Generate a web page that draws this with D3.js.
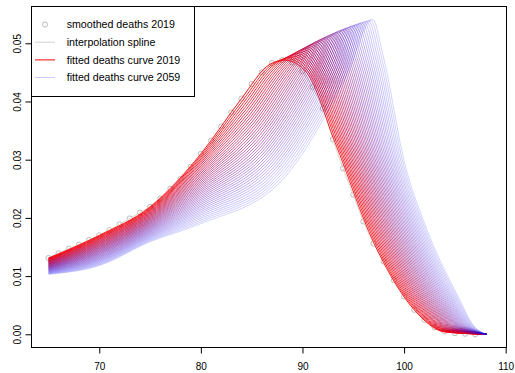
<!DOCTYPE html>
<html>
<head>
<meta charset="utf-8">
<script src="https://cdn.jsdelivr.net/npm/d3@7"></script>
<style>
  html, body { margin: 0; padding: 0; background: #fff; }
  svg { display: block; font-family: "Liberation Sans", Arial, Helvetica, sans-serif; }
</style>
</head>
<body>
<svg id="chart" width="515" height="373"></svg>
<script>
// ---- smoothed deaths distribution, 2019 ----
const smoothAges = [65,66,67,68,69,70,71,72,73,74,75,76,77,78,79,80,81,82,83,84,85,86,87,88,89,90,
  91,92,93,94,95,96,97,98,99,100,101,102,103,104,105,106,107];
const smoothDeaths2019 = [.0131,.0139,.0147,.0154,.0162,.0170,.0179,.0189,.0199,.0209,.0219,.0233,
  .0250,.0267,.0288,.0310,.0333,.0357,.0381,.0405,.0430,.0450,.0466,.0471,.0467,.0452,.0425,.0388,
  .0335,.0285,.0240,.0194,.0156,.0125,.0093,.0065,.0042,.0025,.0012,.0005,.0002,.0001,.0000];

// ---- fitted deaths curves, one per projection year ----
const years = [2019,2020,2021,2022,2023,2024,2025,2026,2027,2028,2029,2030,2031,2032,2033,2034,2035,
  2036,2037,2038,2039,2040,2041,2042,2043,2044,2045,2046,2047,2048,2049,2050,2051,2052,2053,2054,
  2055,2056,2057,2058,2059];

// curve values at fixed ages
const fixedAges = [65, 70, 75, 80];
const v65 = [.01310,.01303,.01296,.01289,.01282,.01275,.01268,.01261,.01254,.01247,
  .01240,.01233,.01226,.01219,.01212,.01205,.01198,.01191,.01184,.01177,
  .01170,.01163,.01156,.01149,.01142,.01135,.01128,.01121,.01114,.01107,
  .01100,.01093,.01086,.01079,.01072,.01065,.01058,.01051,.01044,.01037,.01030];
const v70 = [.01700,.01687,.01674,.01661,.01648,.01635,.01622,.01609,.01596,.01583,
  .01570,.01557,.01544,.01531,.01518,.01505,.01492,.01479,.01466,.01453,
  .01440,.01427,.01414,.01401,.01388,.01375,.01362,.01349,.01336,.01323,
  .01310,.01297,.01284,.01271,.01258,.01245,.01232,.01219,.01206,.01193,.01180];
const v75 = [.02190,.02175,.02160,.02145,.02130,.02115,.02100,.02085,.02070,.02055,
  .02040,.02025,.02010,.01995,.01980,.01965,.01950,.01935,.01920,.01905,
  .01890,.01875,.01860,.01845,.01830,.01815,.01800,.01785,.01770,.01755,
  .01740,.01725,.01710,.01695,.01680,.01665,.01650,.01635,.01620,.01605,.01590];
const v80 = [.0310,.0307,.0304,.0301,.0298,.0295,.0292,.0289,.0286,.0283,
  .0280,.0277,.0274,.0271,.0268,.0265,.0262,.0259,.0256,.0253,
  .0250,.0247,.0244,.0241,.0238,.0235,.0232,.0229,.0226,.0223,
  .0220,.0217,.0214,.0211,.0208,.0205,.0202,.0199,.0196,.0193,.0190];

// rising limb
const riseAge = [84.0,84.1,84.2,84.3,84.4,84.5,84.6,84.7,84.8,84.9,
  85.0,85.1,85.2,85.3,85.4,85.5,85.6,85.7,85.8,85.9,
  86.0,86.1,86.2,86.3,86.4,86.5,86.6,86.7,86.8,86.9,
  87.0,87.1,87.2,87.3,87.4,87.5,87.6,87.7,87.8,87.9,88.0];
const riseVal = [.04050,.04015,.03980,.03945,.03910,.03875,.03840,.03805,.03770,.03735,
  .03700,.03665,.03630,.03595,.03560,.03525,.03490,.03455,.03420,.03385,
  .03350,.03315,.03280,.03245,.03210,.03175,.03140,.03105,.03070,.03035,
  .03000,.02965,.02930,.02895,.02860,.02825,.02790,.02755,.02720,.02685,.02650];
const shoulderAge = [86.80,86.99,87.18,87.37,87.56,87.75,87.94,88.13,88.32,88.51,
  88.70,88.89,89.08,89.27,89.46,89.65,89.84,90.03,90.22,90.41,
  90.60,90.79,90.98,91.17,91.36,91.55,91.74,91.93,92.12,92.31,
  92.50,92.69,92.88,93.07,93.26,93.45,93.64,93.83,94.02,94.21,94.40];
const shoulderVal = [.04640,.04636,.04632,.04628,.04624,.04620,.04616,.04612,.04608,.04604,
  .04600,.04596,.04592,.04588,.04584,.04580,.04576,.04572,.04568,.04564,
  .04560,.04556,.04552,.04548,.04544,.04540,.04536,.04532,.04528,.04524,
  .04520,.04516,.04512,.04508,.04504,.04500,.04496,.04492,.04488,.04484,.04480];

// modal age and height
const peakAge = [88.30,88.52,88.73,88.95,89.16,89.38,89.59,89.81,90.02,90.24,
  90.45,90.67,90.88,91.10,91.31,91.53,91.74,91.96,92.17,92.39,
  92.60,92.82,93.03,93.25,93.46,93.68,93.89,94.11,94.32,94.54,
  94.75,94.97,95.18,95.40,95.61,95.83,96.04,96.26,96.47,96.69,96.90];
const peakVal = [.04710,.04734,.04758,.04782,.04805,.04828,.04851,.04873,.04895,.04916,
  .04938,.04958,.04979,.04999,.05019,.05038,.05057,.05076,.05094,.05112,
  .05130,.05147,.05164,.05181,.05197,.05213,.05229,.05244,.05259,.05273,
  .05288,.05301,.05315,.05328,.05341,.05353,.05365,.05377,.05388,.05399,.05410];

// falling limb
const fall1Age = [90.40,90.59,90.78,90.97,91.16,91.35,91.54,91.73,91.92,92.11,
  92.30,92.49,92.68,92.87,93.06,93.25,93.44,93.63,93.82,94.01,
  94.20,94.39,94.58,94.77,94.96,95.15,95.34,95.53,95.72,95.91,
  96.10,96.29,96.48,96.67,96.86,97.05,97.24,97.43,97.62,97.81,98.00];
const fall1Val = [.04500,.04506,.04512,.04518,.04524,.04530,.04536,.04542,.04548,.04554,
  .04560,.04566,.04572,.04578,.04584,.04590,.04596,.04602,.04608,.04614,
  .04620,.04626,.04632,.04638,.04644,.04650,.04656,.04662,.04668,.04674,
  .04680,.04686,.04692,.04698,.04704,.04710,.04716,.04722,.04728,.04734,.04740];
const fall2Age = [93.20,93.37,93.54,93.71,93.88,94.05,94.22,94.39,94.56,94.73,
  94.90,95.07,95.24,95.41,95.58,95.75,95.92,96.09,96.26,96.43,
  96.60,96.77,96.94,97.11,97.28,97.45,97.62,97.79,97.96,98.13,
  98.30,98.47,98.64,98.81,98.98,99.15,99.32,99.49,99.66,99.83,100.00];
const fall2Val = [.03300,.03292,.03284,.03276,.03268,.03260,.03252,.03244,.03236,.03228,
  .03220,.03212,.03204,.03196,.03188,.03180,.03172,.03164,.03156,.03148,
  .03140,.03132,.03124,.03116,.03108,.03100,.03092,.03084,.03076,.03068,
  .03060,.03052,.03044,.03036,.03028,.03020,.03012,.03004,.02996,.02988,.02980];
const fall3Age = [97.00,97.13,97.26,97.39,97.52,97.65,97.78,97.91,98.04,98.17,
  98.30,98.43,98.56,98.69,98.82,98.95,99.08,99.21,99.34,99.47,
  99.60,99.73,99.86,99.99,100.12,100.25,100.38,100.51,100.64,100.77,
  100.90,101.03,101.16,101.29,101.42,101.55,101.68,101.81,101.94,102.07,102.20];
const fall3Val = [.01580,.01586,.01592,.01598,.01604,.01610,.01616,.01622,.01628,.01634,
  .01640,.01646,.01652,.01658,.01664,.01670,.01676,.01682,.01688,.01694,
  .01700,.01706,.01712,.01718,.01724,.01730,.01736,.01742,.01748,.01754,
  .01760,.01766,.01772,.01778,.01784,.01790,.01796,.01802,.01808,.01814,.01820];
const fall4Age = [101.00,101.11,101.22,101.33,101.44,101.55,101.66,101.77,101.88,101.99,
  102.10,102.21,102.32,102.43,102.54,102.65,102.76,102.87,102.98,103.09,
  103.20,103.31,103.42,103.53,103.64,103.75,103.86,103.97,104.08,104.19,
  104.30,104.41,104.52,104.63,104.74,104.85,104.96,105.07,105.18,105.29,105.40];
const fall4Val = [.00420,.00425,.00430,.00435,.00440,.00445,.00450,.00455,.00460,.00465,
  .00470,.00475,.00480,.00485,.00490,.00495,.00500,.00505,.00510,.00515,
  .00520,.00525,.00530,.00535,.00540,.00545,.00550,.00555,.00560,.00565,
  .00570,.00575,.00580,.00585,.00590,.00595,.00600,.00605,.00610,.00615,.00620];
const tailAge = [104.00,104.07,104.14,104.21,104.28,104.35,104.42,104.49,104.56,104.63,
  104.70,104.77,104.84,104.91,104.98,105.05,105.12,105.19,105.26,105.33,
  105.40,105.47,105.54,105.61,105.68,105.75,105.82,105.89,105.96,106.03,
  106.10,106.17,106.24,106.31,106.38,106.45,106.52,106.59,106.66,106.73,106.80];
const tailVal = [.00040,.00043,.00046,.00049,.00052,.00055,.00058,.00061,.00064,.00067,
  .00070,.00073,.00076,.00079,.00082,.00085,.00088,.00091,.00094,.00097,
  .00100,.00103,.00106,.00109,.00112,.00115,.00118,.00121,.00124,.00127,
  .00130,.00133,.00136,.00139,.00142,.00145,.00148,.00151,.00154,.00157,.00160];
const endPoint = [108.1, 0];

// axis ticks
const xTicks = [70, 80, 90, 100, 110];
const yTicks = [0, 0.01, 0.02, 0.03, 0.04, 0.05];

// legend labels
const legendLabels = ["smoothed deaths 2019", "interpolation spline",
  "fitted deaths curve 2019", "fitted deaths curve 2059"];

// ---- drawing ----
const svg = d3.select("#chart");
const box = { left: 31.5, right: 506.5, top: 6.5, bottom: 347.5 };

const x = d3.scaleLinear().domain([63.33, 110.08]).range([box.left, box.right]);
const y = d3.scaleLinear().domain([-0.00227, 0.05632]).range([box.bottom, box.top]);

const startColor = "rgba(255,0,0,1)";
const endColor = "rgba(0,0,255,0.2)";
const yearColor = d3.interpolateRgb(startColor, endColor);
const pointColor = "#b4b4b4";
const splineColor = "#d3d3d3";

svg.append("rect").attr("width", 515).attr("height", 373).attr("fill", "#fff");

// observed points
svg.append("g").selectAll("circle")
  .data(smoothAges.map((a, i) => [a, smoothDeaths2019[i]]))
  .join("circle")
  .attr("cx", d => x(d[0]))
  .attr("cy", d => y(d[1]))
  .attr("r", 2.6)
  .attr("fill", "none")
  .attr("stroke", pointColor)
  .attr("stroke-width", 0.9);

// spline through the observed points
const splineLine = d3.line().x(d => x(d[0])).y(d => y(d[1])).curve(d3.curveNatural);
svg.append("path")
  .attr("d", splineLine(smoothAges.map((a, i) => [a, smoothDeaths2019[i]])))
  .attr("fill", "none")
  .attr("stroke", splineColor)
  .attr("stroke-width", 1);

// fitted curves, one per year
const curveLine = d3.line().x(d => x(d[0])).y(d => y(d[1])).curve(d3.curveMonotoneX);
const curves = years.map((yr, i) => ({
  year: yr,
  points: [
    [fixedAges[0], v65[i]], [fixedAges[1], v70[i]], [fixedAges[2], v75[i]], [fixedAges[3], v80[i]],
    [riseAge[i], riseVal[i]], [shoulderAge[i], shoulderVal[i]], [peakAge[i], peakVal[i]],
    [fall1Age[i], fall1Val[i]], [fall2Age[i], fall2Val[i]], [fall3Age[i], fall3Val[i]],
    [fall4Age[i], fall4Val[i]], [tailAge[i], tailVal[i]], endPoint
  ]
}));
const firstYear = years[0], lastYear = years[years.length - 1];
svg.append("g").selectAll("path")
  .data(curves)
  .join("path")
  .attr("d", d => curveLine(d.points))
  .attr("fill", "none")
  .attr("stroke", d => yearColor((d.year - firstYear) / (lastYear - firstYear)))
  .attr("stroke-width", 0.85);

// axes
const gx = svg.append("g")
  .attr("transform", `translate(0,${box.bottom})`)
  .call(d3.axisBottom(x).tickValues(xTicks).tickSize(6).tickFormat(d3.format("d")));
gx.select(".domain").remove();
gx.attr("font-family", null).attr("font-size", null);
gx.selectAll("text").attr("y", 22.5).attr("dy", null)
  .style("font-size", "10px").attr("fill", "#000");
gx.selectAll("line").attr("stroke", "#000");

const gy = svg.append("g")
  .attr("transform", `translate(${box.left},0)`)
  .call(d3.axisLeft(y).tickValues(yTicks).tickSize(6).tickFormat(d3.format(".2f")));
gy.select(".domain").remove();
gy.attr("font-family", null).attr("font-size", null);
gy.selectAll("text").attr("x", null).attr("dy", null)
  .attr("text-anchor", "middle")
  .attr("transform", "translate(-11,0) rotate(-90)")
  .style("font-size", "10px").attr("fill", "#000");
gy.selectAll("line").attr("stroke", "#000");

// plot frame
svg.append("rect")
  .attr("x", box.left).attr("y", box.top)
  .attr("width", box.right - box.left).attr("height", box.bottom - box.top)
  .attr("fill", "none").attr("stroke", "#000").attr("stroke-width", 1);

// legend
const lg = svg.append("g");
lg.append("rect")
  .attr("x", box.left).attr("y", box.top).attr("width", 163).attr("height", 90)
  .attr("fill", "#fff").attr("stroke", "#000").attr("stroke-width", 1);
const rowY = [24.5, 42.2, 59.9, 77.5];
const symX = 45, textX = 66.7;
lg.append("circle").attr("cx", symX).attr("cy", rowY[0]).attr("r", 2.6)
  .attr("fill", "none").attr("stroke", pointColor).attr("stroke-width", 0.9);
const legendStrokes = [null, splineColor, startColor, endColor];
[1, 2, 3].forEach(k => {
  lg.append("line").attr("x1", 35).attr("x2", 55).attr("y1", rowY[k]).attr("y2", rowY[k])
    .attr("stroke", legendStrokes[k]).attr("stroke-width", 1);
});
lg.selectAll("text.lab")
  .data(legendLabels)
  .join("text")
  .attr("class", "lab")
  .attr("x", textX)
  .attr("y", (d, i) => rowY[i] + 3.8)
  .style("font-size", "10.65px")
  .attr("fill", "#000")
  .text(d => d);
</script>
</body>
</html>
